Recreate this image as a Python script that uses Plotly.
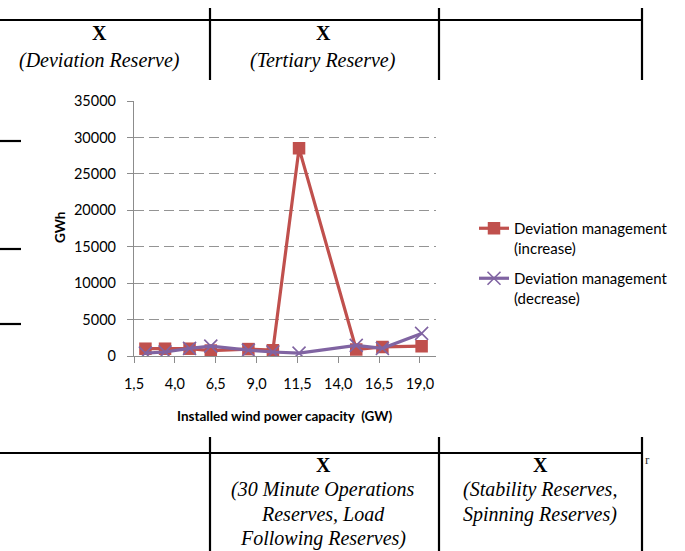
import plotly.graph_objects as go

# Installed wind capacity (GW) and reserve energy needs (GWh)
capacity_gw = [2.2, 3.4, 4.9, 6.2, 8.5, 10.0, 11.6, 15.1, 16.7, 19.1]
increase_gwh = [1000, 1000, 1000, 750, 950, 800, 28500, 900, 1250, 1350]
decrease_gwh = [400, 550, 1050, 1350, 800, 550, 400, 1450, 1050, 3100]

x_tick_vals = [1.5, 4.0, 6.5, 9.0, 11.5, 14.0, 16.5, 19.0]
x_tick_text = ["1,5", "4,0", "6,5", "9,0", "11,5", "14,0", "16,5", "19,0"]
y_tick_vals = [0, 5000, 10000, 15000, 20000, 25000, 30000, 35000]
y_tick_text = ["0", "5000", "10000", "15000", "20000", "25000", "30000", "35000"]

series_names = ["Deviation management<br>(increase)", "Deviation management<br>(decrease)"]

W, H = 685, 551
RED = "#C0504D"
PURPLE = "#8064A2"
AXIS_GRAY = "#8C8C8C"
SANS = "Lato, Calibri, sans-serif"
SERIF = "Liberation Serif, Times New Roman, serif"


def px(x):
    return x / W


def py(y):
    return 1 - y / H


fig = go.Figure()

fig.add_trace(go.Scatter(
    x=capacity_gw, y=increase_gwh, name=series_names[0], mode="lines+markers",
    line=dict(color=RED, width=3.2),
    marker=dict(symbol="square", size=12.5, color=RED),
    legend="legend",
))
fig.add_trace(go.Scatter(
    x=capacity_gw, y=decrease_gwh, name=series_names[1], mode="lines+markers",
    line=dict(color=PURPLE, width=3.2),
    marker=dict(symbol="x-thin", size=13, color=PURPLE,
                line=dict(color=PURPLE, width=1.6)),
    legend="legend2",
))

legend_style = dict(
    font=dict(family=SANS, size=15, color="#000000"),
    bgcolor="rgba(0,0,0,0)", itemwidth=30, valign="top",
    xanchor="left", yanchor="top", tracegroupgap=0,
)

fig.update_layout(
    width=W, height=H,
    margin=dict(l=0, r=0, t=0, b=0, autoexpand=False),
    paper_bgcolor="white", plot_bgcolor="white",
    xaxis=dict(
        domain=[px(134), px(435.5)], range=[1.5, 19.95],
        tickmode="array", tickvals=x_tick_vals, ticktext=x_tick_text,
        ticks="outside", ticklen=6, tickcolor=AXIS_GRAY, tickwidth=1,
        showgrid=False, zeroline=False,
        showline=True, linecolor=AXIS_GRAY, linewidth=1.2,
        tickfont=dict(family=SANS, size=14.5, color="#000000"),
        ticklabelstandoff=8, automargin=False,
    ),
    yaxis=dict(
        domain=[py(356), py(101)], range=[0, 35000],
        tickmode="array", tickvals=y_tick_vals, ticktext=y_tick_text,
        ticks="outside", ticklen=6, tickcolor=AXIS_GRAY, tickwidth=1,
        showgrid=True, gridcolor="#949494", gridwidth=1.4, griddash="10px,5px",
        zeroline=False,
        showline=True, linecolor=AXIS_GRAY, linewidth=1.2,
        tickfont=dict(family=SANS, size=14.5, color="#000000"),
        ticklabelstandoff=8, automargin=False,
    ),
    legend=dict(x=px(474), y=py(212), **legend_style),
    legend2=dict(x=px(474), y=py(262), **legend_style),
    showlegend=True,
)

# Axis titles
fig.add_annotation(
    x=px(60), y=py(228), xref="paper", yref="paper", text="<b>GWh</b>",
    xanchor="center", yanchor="middle",
    textangle=-90, showarrow=False,
    font=dict(family=SANS, size=13.5, color="#000000"),
)
fig.add_annotation(
    x=px(285), y=py(416), xref="paper", yref="paper",
    xanchor="center", yanchor="middle",
    text="<b>Installed wind power capacity  (GW)</b>", showarrow=False,
    font=dict(family=SANS, size=13.5, color="#000000"),
)

# Surrounding table rules
table_lines = [
    # top row
    (0, 20, 642, 20), (210, 8, 210, 80), (439, 8, 439, 80), (642, 8, 642, 80),
    # bottom row
    (0, 453, 642, 453), (210, 437, 210, 551), (439, 437, 439, 551), (642, 437, 642, 551),
    # left margin rules
    (0, 141, 21, 141), (0, 249, 21, 249), (0, 324, 21, 324),
]
for x0, y0, x1, y1 in table_lines:
    fig.add_shape(
        type="line", xref="paper", yref="paper",
        x0=px(x0), y0=py(y0), x1=px(x1), y1=py(y1),
        line=dict(color="#000000", width=2.2),
    )

# Table cell text
cell_text = [
    (100, 33, "<b>X</b>"), (100, 60, "<i>(Deviation Reserve)</i>"),
    (323, 33, "<b>X</b>"), (323, 60, "<i>(Tertiary Reserve)</i>"),
    (323, 465, "<b>X</b>"), (323, 489, "<i>(30 Minute Operations</i>"),
    (323, 514, "<i>Reserves, Load</i>"), (323, 538, "<i>Following Reserves)</i>"),
    (540, 465, "<b>X</b>"), (540, 489, "<i>(Stability Reserves,</i>"),
    (540, 514, "<i>Spinning Reserves)</i>"),
]
for cx, cy, txt in cell_text:
    fig.add_annotation(
        x=px(cx), y=py(cy), xref="paper", yref="paper", text=txt,
        xanchor="center", yanchor="middle",
        showarrow=False, font=dict(family=SERIF, size=20, color="#000000"),
    )

fig.add_annotation(
    x=px(647), y=py(459), xref="paper", yref="paper", text="r",
    xanchor="center", yanchor="middle",
    showarrow=False, font=dict(family=SERIF, size=13, color="#333333"),
)

fig.write_html("out.html")
